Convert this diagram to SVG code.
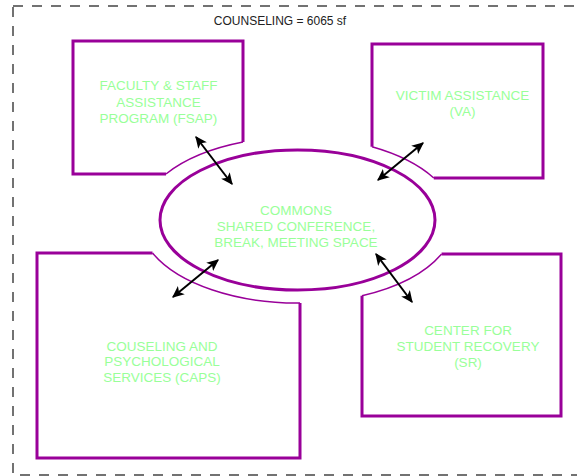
<svg xmlns="http://www.w3.org/2000/svg" width="577" height="476" viewBox="0 0 577 476">
<style>
.box{fill:none;stroke:#990099;stroke-width:3;stroke-linejoin:miter}
.arc{fill:none;stroke:#990099;stroke-width:1.5}
.lbl{font-family:"Liberation Sans",Arial,sans-serif;font-size:13.5px;fill:#99FF99;text-anchor:middle}
.title{font-family:"Liberation Sans",Arial,sans-serif;font-size:12px;fill:#222222;text-anchor:middle}
.conn{stroke:#000;stroke-width:2;marker-start:url(#ah);marker-end:url(#ah)}
</style>
<defs>
<marker id="ah" viewBox="0 0 10 10" refX="9" refY="5" markerWidth="6" markerHeight="6" orient="auto-start-reverse" markerUnits="strokeWidth">
<path d="M0,0.5 L10,5 L0,9.5 L2.5,5 Z" fill="#000"/>
</marker>
</defs>
<rect x="0" y="0" width="577" height="476" fill="#fff"/>
<rect x="13" y="6" width="572" height="469" fill="none" stroke="#444" stroke-width="1.5" stroke-dasharray="10,9"/>
<text class="title" x="280" y="25">COUNSELING = 6065 sf</text>

<g id="commons">
<ellipse cx="297.5" cy="220" rx="137.5" ry="70" fill="none" stroke="#990099" stroke-width="3"/>
<text class="lbl" x="296" y="215">COMMONS</text>
<text class="lbl" x="296" y="231">SHARED CONFERENCE,</text>
<text class="lbl" x="296" y="247">BREAK, MEETING SPACE</text>
</g>

<g id="fsap">
<path class="box" d="M243,142.1 V41 H73 V174 H166"/>
<path class="arc" d="M243,142.1 A158,83 0 0 0 166,174"/>
<text class="lbl" x="158.5" y="90">FACULTY &amp; STAFF</text>
<text class="lbl" x="158.5" y="106.5">ASSISTANCE</text>
<text class="lbl" x="158.5" y="123">PROGRAM (FSAP)</text>
</g>

<g id="va">
<path class="box" d="M372,146.8 V44 H543 V178 H433.8"/>
<path class="arc" d="M372,146.8 A158,83 0 0 1 433.8,178"/>
<text class="lbl" x="462.5" y="99.5">VICTIM ASSISTANCE</text>
<text class="lbl" x="462.5" y="116">(VA)</text>
</g>

<g id="caps">
<path class="box" d="M152.5,253 H37 V458 H300 V303"/>
<path class="arc" d="M152.5,253 A158,83 0 0 0 300,303"/>
<text class="lbl" x="162" y="350.5">COUSELING AND</text>
<text class="lbl" x="162" y="366">PSYCHOLOGICAL</text>
<text class="lbl" x="162" y="381.5">SERVICES (CAPS)</text>
</g>

<g id="sr">
<path class="box" d="M362,295.8 V416 H561 V254 H441.6"/>
<path class="arc" d="M441.6,254 A158,83 0 0 1 362,295.8"/>
<text class="lbl" x="468" y="335">CENTER FOR</text>
<text class="lbl" x="468" y="351">STUDENT RECOVERY</text>
<text class="lbl" x="468" y="367">(SR)</text>
</g>

<g id="connectors">
<line class="conn" x1="196" y1="137" x2="232" y2="184"/>
<line class="conn" x1="423" y1="143" x2="378" y2="180"/>
<line class="conn" x1="218" y1="260" x2="173" y2="297"/>
<line class="conn" x1="376" y1="254" x2="412" y2="302"/>
</g>
</svg>
